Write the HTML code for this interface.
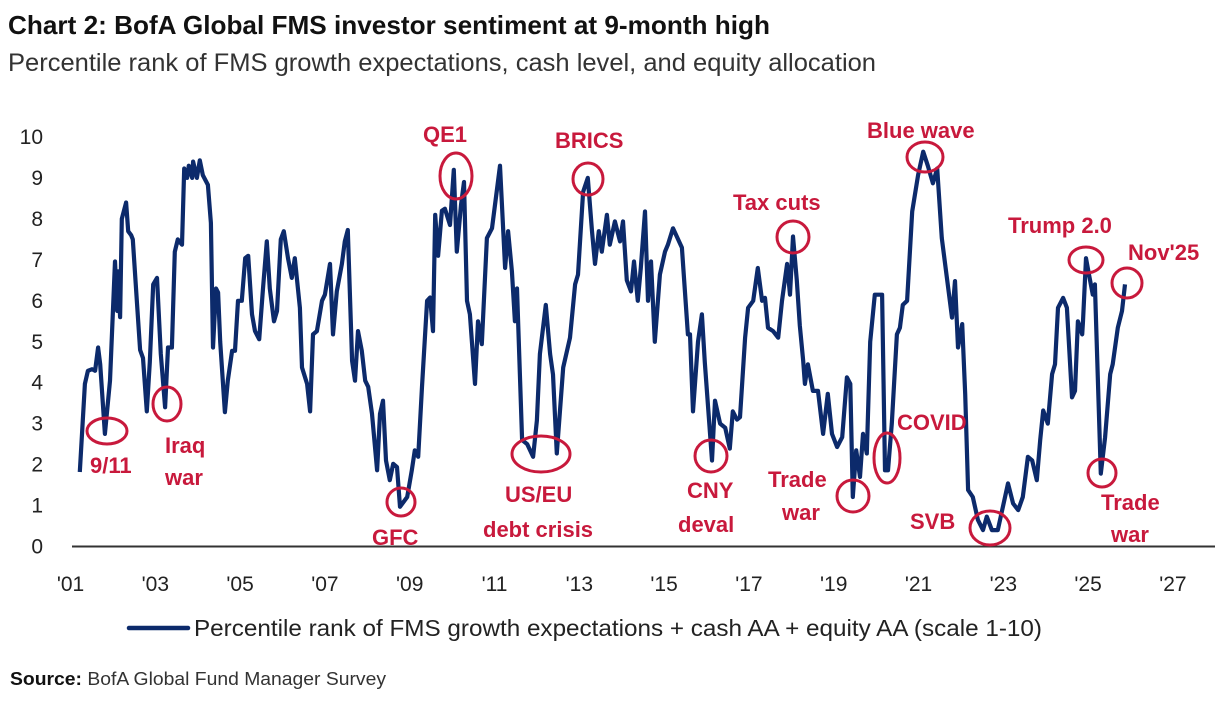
<!DOCTYPE html>
<html><head><meta charset="utf-8"><style>
html,body{margin:0;padding:0;background:#fff;}
svg{display:block;font-family:"Liberation Sans",sans-serif;}
.ann{fill:#c8193c;font-weight:bold;font-size:22px;}
.circ{fill:none;stroke:#c8193c;stroke-width:3;}
</style></head><body>
<svg id="chart" width="1218" height="702" viewBox="0 0 1218 702">
<text x="8" y="34" font-size="26" font-weight="bold" fill="#111" textLength="762" lengthAdjust="spacingAndGlyphs">Chart 2: BofA Global FMS investor sentiment at 9-month high</text>
<text x="8" y="71" font-size="25" fill="#333" textLength="868" lengthAdjust="spacingAndGlyphs">Percentile rank of FMS growth expectations, cash level, and equity allocation</text>
<g id="yaxis"></g>
<g id="xaxis"></g>
<line x1="72" y1="546.5" x2="1215" y2="546.5" stroke="#333" stroke-width="2"/>
<path id="series" fill="none" stroke="#0c2a6b" stroke-width="4.2" stroke-linejoin="round"/>
<g id="annotations"></g>
<line x1="129" y1="628" x2="188" y2="628" stroke="#0c2a6b" stroke-width="4.5" stroke-linecap="round"/>
<text x="194" y="636" font-size="23" fill="#222" textLength="848" lengthAdjust="spacingAndGlyphs">Percentile rank of FMS growth expectations + cash AA + equity AA (scale 1-10)</text>
<text x="10" y="685" font-size="18" fill="#333" textLength="376" lengthAdjust="spacingAndGlyphs"><tspan font-weight="bold" fill="#111">Source:</tspan> BofA Global Fund Manager Survey</text>
</svg>
<script>
const dates=[2001.22,2001.34,2001.41,2001.51,2001.58,2001.65,2001.70,2001.81,2001.93,2002.05,2002.10,2002.12,2002.17,2002.21,2002.31,2002.36,2002.43,2002.47,2002.57,2002.64,2002.71,2002.80,2002.87,2002.95,2003.04,2003.13,2003.23,2003.30,2003.39,2003.46,2003.53,2003.63,2003.68,2003.75,2003.79,2003.87,2003.89,2003.98,2004.05,2004.12,2004.24,2004.31,2004.36,2004.43,2004.48,2004.53,2004.64,2004.71,2004.81,2004.88,2004.95,2005.04,2005.12,2005.19,2005.28,2005.35,2005.45,2005.54,2005.63,2005.70,2005.80,2005.87,2005.96,2006.03,2006.13,2006.22,2006.29,2006.41,2006.46,2006.58,2006.65,2006.72,2006.81,2006.93,2007.00,2007.12,2007.19,2007.28,2007.31,2007.40,2007.47,2007.54,2007.64,2007.71,2007.78,2007.87,2007.95,2008.02,2008.11,2008.23,2008.30,2008.37,2008.44,2008.53,2008.61,2008.70,2008.77,2008.94,2009.05,2009.12,2009.20,2009.29,2009.41,2009.48,2009.55,2009.60,2009.67,2009.76,2009.83,2009.95,2010.04,2010.11,2010.21,2010.28,2010.35,2010.42,2010.54,2010.61,2010.70,2010.82,2010.94,2011.13,2011.25,2011.32,2011.41,2011.48,2011.53,2011.65,2011.77,2011.91,2012.00,2012.07,2012.21,2012.31,2012.38,2012.47,2012.62,2012.78,2012.90,2012.97,2013.09,2013.20,2013.30,2013.37,2013.46,2013.53,2013.65,2013.72,2013.84,2013.96,2014.03,2014.12,2014.22,2014.29,2014.38,2014.45,2014.55,2014.62,2014.69,2014.78,2014.90,2015.02,2015.09,2015.21,2015.42,2015.56,2015.61,2015.68,2015.80,2015.89,2015.96,2016.13,2016.20,2016.32,2016.44,2016.55,2016.62,2016.72,2016.79,2016.91,2016.98,2017.10,2017.21,2017.31,2017.38,2017.45,2017.57,2017.69,2017.78,2017.90,2017.97,2018.04,2018.13,2018.20,2018.28,2018.32,2018.39,2018.51,2018.63,2018.75,2018.86,2018.96,2019.08,2019.20,2019.31,2019.39,2019.45,2019.53,2019.62,2019.69,2019.78,2019.86,2019.97,2020.14,2020.21,2020.28,2020.37,2020.49,2020.56,2020.63,2020.73,2020.85,2020.99,2021.11,2021.22,2021.34,2021.44,2021.55,2021.67,2021.79,2021.86,2021.93,2022.03,2022.10,2022.17,2022.28,2022.40,2022.52,2022.61,2022.73,2022.87,2022.99,2023.11,2023.23,2023.35,2023.46,2023.58,2023.68,2023.79,2023.87,2023.94,2024.05,2024.15,2024.22,2024.29,2024.41,2024.50,2024.62,2024.69,2024.76,2024.86,2024.88,2024.95,2025.02,2025.11,2025.16,2025.23,2025.30,2025.40,2025.52,2025.58,2025.70,2025.80,2025.87];
const values=[1.82,3.97,4.29,4.33,4.29,4.86,4.45,2.75,4.05,6.96,5.75,6.72,5.6,8.0,8.4,7.7,7.6,7.5,5.9,4.8,4.6,3.3,4.5,6.4,6.56,4.7,3.4,4.86,4.86,7.2,7.5,7.37,9.23,9.0,9.3,9.0,9.4,9.0,9.43,9.07,8.83,7.9,4.86,6.3,6.2,5.0,3.28,4.05,4.78,4.78,6.0,6.0,7.04,7.1,5.67,5.26,5.06,6.3,7.45,6.3,5.5,5.75,7.5,7.7,7.04,6.56,7.04,5.83,4.37,3.97,3.3,5.18,5.26,6.0,6.15,6.9,5.18,6.23,6.4,6.9,7.45,7.73,4.53,4.05,5.26,4.78,4.05,3.9,3.24,1.86,3.24,3.56,2.1,1.62,2.02,1.94,0.97,1.21,1.86,2.35,2.19,3.9,6.0,6.08,5.26,8.1,7.1,8.2,8.25,7.85,9.2,7.2,8.34,8.9,6.0,5.67,3.97,5.5,4.94,7.53,7.77,9.3,6.8,7.7,6.72,5.5,6.3,2.6,2.5,2.19,3.08,4.7,5.9,4.7,4.2,2.27,4.37,5.1,6.4,6.64,8.66,9.0,7.7,6.9,7.7,7.2,8.1,7.37,7.94,7.45,7.94,6.5,6.23,6.96,6.0,6.8,8.18,6.0,6.96,5.0,6.64,7.2,7.37,7.77,7.3,5.18,5.18,3.3,5.0,5.67,4.5,2.1,3.56,3.0,2.9,2.39,3.3,3.1,3.16,5.1,5.83,6.0,6.8,6.0,6.07,5.34,5.26,5.1,6.0,6.9,6.15,7.57,6.5,5.4,4.53,3.97,4.45,3.8,3.8,2.75,3.73,2.75,2.43,2.67,4.13,3.97,1.21,2.35,1.7,2.75,2.27,5.0,6.15,6.15,1.86,1.86,3.0,5.18,5.34,5.9,6.0,8.18,9.07,9.64,9.3,8.87,9.23,7.53,6.56,5.59,6.48,4.86,5.43,3.72,1.38,1.21,0.65,0.4,0.73,0.4,0.4,0.97,1.54,1.05,0.89,1.21,2.19,2.1,1.62,2.6,3.32,3.0,4.21,4.45,5.83,6.07,5.83,3.64,3.8,5.5,5.18,5.5,7.04,6.64,6.15,6.4,4.05,1.78,2.67,4.21,4.45,5.34,5.75,6.4];
const xTickYears=[2001,2003,2005,2007,2009,2011,2013,2015,2017,2019,2021,2023,2025,2027];
const xTickLabels=["'01","'03","'05","'07","'09","'11","'13","'15","'17","'19","'21","'23","'25","'27"];
const yTicks=[0,1,2,3,4,5,6,7,8,9,10];
const annLabels=["9/11","Iraq war","GFC","QE1","BRICS","US/EU debt crisis","CNY deval","Tax cuts","Trade war","COVID","Blue wave","SVB","Trump 2.0","Nov'25","Trade war"];

const NS="http://www.w3.org/2000/svg";
function x(yr){return 79+(yr-2001.2)*42.4;}
function y(v){return 546.5-v*40.95;}
function mk(tag,attrs,parent,txt){const e=document.createElementNS(NS,tag);for(const k in attrs)e.setAttribute(k,attrs[k]);if(txt!==undefined)e.textContent=txt;parent.appendChild(e);return e;}

const ya=document.getElementById('yaxis');
yTicks.forEach(t=>{
  const e=mk('text',{x:43,y:y(t)+7,'text-anchor':'end','font-size':21,fill:'#222'},ya,String(t));
  
  
});
const xa=document.getElementById('xaxis');
xTickYears.forEach((yr,i)=>{
  const e=mk('text',{x:x(yr),y:591,'text-anchor':'middle','font-size':21,fill:'#222'},xa,xTickLabels[i]);
  
  
});
let d='';
dates.forEach((dt,i)=>{d+=(i?'L':'M')+x(dt).toFixed(1)+','+y(values[i]).toFixed(1);});
document.getElementById('series').setAttribute('d',d);

// annotations: circle [cx,cy,rx,ry], label lines [[text,x,baseline]]
const an=document.getElementById('annotations');
const anns=[
 [[107,431,20,13],[["9/11",90,473]]],
 [[167,404,14,17],[["Iraq",165,453],["war",165,485]]],
 [[401,502,14,14],[["GFC",372,545]]],
 [[456,176,16,23],[["QE1",423,142]]],
 [[588,179,15,16],[["BRICS",555,148]]],
 [[541,454,29,18],[["US/EU",505,502],["debt crisis",483,537]]],
 [[711,456,16,16],[["CNY",687,498],["deval",678,532]]],
 [[793,237,16,16],[["Tax cuts",733,210]]],
 [[853,496,16,16],[["Trade",768,487],["war",782,520]]],
 [[887,458,13,25],[["COVID",897,430]]],
 [[925,157,18,15],[["Blue wave",867,138]]],
 [[990,528,20,17],[["SVB",910,529]]],
 [[1086,260,17,13],[["Trump 2.0",1008,233]]],
 [[1127,283,15,15],[["Nov'25",1128,260]]],
 [[1102,473,14,14],[["Trade",1101,510],["war",1111,542]]]
];
anns.forEach(a=>{
  const c=a[0];
  const el=mk('ellipse',{cx:c[0],cy:c[1],rx:c[2],ry:c[3],class:'circ'},an);
  
  
  a[1].forEach(l=>{
    const t=mk('text',{x:l[1],y:l[2],class:'ann'},an,l[0]);
    
    
  });
});
</script>
</body></html>
